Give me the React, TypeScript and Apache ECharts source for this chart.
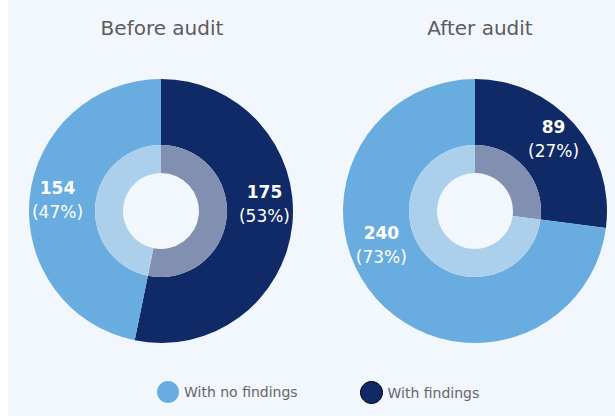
import React, { useEffect, useRef } from "react";
import * as echarts from "echarts";

const categories = ["With findings", "With no findings"];
const beforeValues = [175, 154];
const afterValues = [89, 240];
const pieTitles = ["Before audit", "After audit"];

const FONT = "'DejaVu Sans', sans-serif";
const OUTER = ["#0f2a66", "#69ade0"];
const INNER = ["#8190b0", "#acd0ec"];
const BG = "#f2f6fd";

// label nudges [series][dataIndex] (layout only)
const labelNudge: number[][][] = [
  [[2, -17], [-2, -1]],
  [[], []],
  [[2, -5], [-17, -33]],
  [[], []],
];

export default function App() {
  const ref = useRef<HTMLDivElement>(null);
  useEffect(() => {
    if (!ref.current) return;
    const chart = echarts.init(ref.current, null, { renderer: "svg" });
    const centers = [[153, 211], [467, 211]];
    const titleX = [149, 467];
    const datasets = [beforeValues, afterValues];
    const series: any[] = [];
    datasets.forEach((vals, i) => {
      const total = vals.reduce((a, b) => a + b, 0);
      series.push({
        type: "pie",
        name: pieTitles[i],
        center: centers[i],
        radius: [66, 132],
        startAngle: 90,
        clockwise: true,
        silent: true,
        avoidLabelOverlap: false,
        data: vals.map((v, j) => ({
          name: categories[j],
          value: v,
          itemStyle: { color: OUTER[j] },
        })),
        label: {
          show: true,
          position: "inside",
          color: "#fff",
          fontFamily: FONT,
          formatter: (p: any) =>
            `{b|${p.value}}\n{n|(${Math.round((p.value / total) * 100)}%)}`,
          rich: {
            b: { fontSize: 17, fontWeight: "bold", color: "#fff", fontFamily: FONT, lineHeight: 24 },
            n: { fontSize: 17, color: "#fff", fontFamily: FONT, lineHeight: 24 },
          },
        },
        labelLine: { show: false },
        labelLayout: (p: any) => {
          const n = labelNudge[i * 2][p.dataIndex] || [0, 0];
          return { dx: n[0], dy: n[1] };
        },
      });
      series.push({
        type: "pie",
        name: pieTitles[i] + " inner",
        center: centers[i],
        radius: [38, 66],
        startAngle: 90,
        clockwise: true,
        silent: true,
        data: vals.map((v, j) => ({
          name: categories[j],
          value: v,
          itemStyle: { color: INNER[j] },
        })),
        label: { show: false },
        labelLine: { show: false },
      });
    });
    chart.setOption({
      animation: false,
      backgroundColor: BG,
      title: pieTitles.map((t, i) => ({
        text: t,
        left: titleX[i],
        top: 13,
        textAlign: "center",
        textStyle: { fontFamily: FONT, fontSize: 20, fontWeight: "normal", color: "#5c5c5c" },
      })),
      legend: [
        {
          data: [{ name: "With no findings" }],
          left: 144,
          top: 376,
          icon: "circle",
          itemWidth: 22,
          itemHeight: 22,
          itemGap: 5,
          selectedMode: false,
          textStyle: { fontFamily: FONT, fontSize: 14, color: "#666" },
        },
        {
          data: [{ name: "With findings", itemStyle: { borderColor: "#000", borderWidth: 1 } }],
          left: 347,
          top: 376,
          icon: "circle",
          itemWidth: 22,
          itemHeight: 22,
          selectedMode: false,
          textStyle: { fontFamily: FONT, fontSize: 14, color: "#666" },
        },
      ],
      series,
    });
    return () => chart.dispose();
  }, []);
  return (
    <div
      ref={ref}
      style={{ position: "absolute", left: 8, top: 0, width: 607, height: 416 }}
    />
  );
}
